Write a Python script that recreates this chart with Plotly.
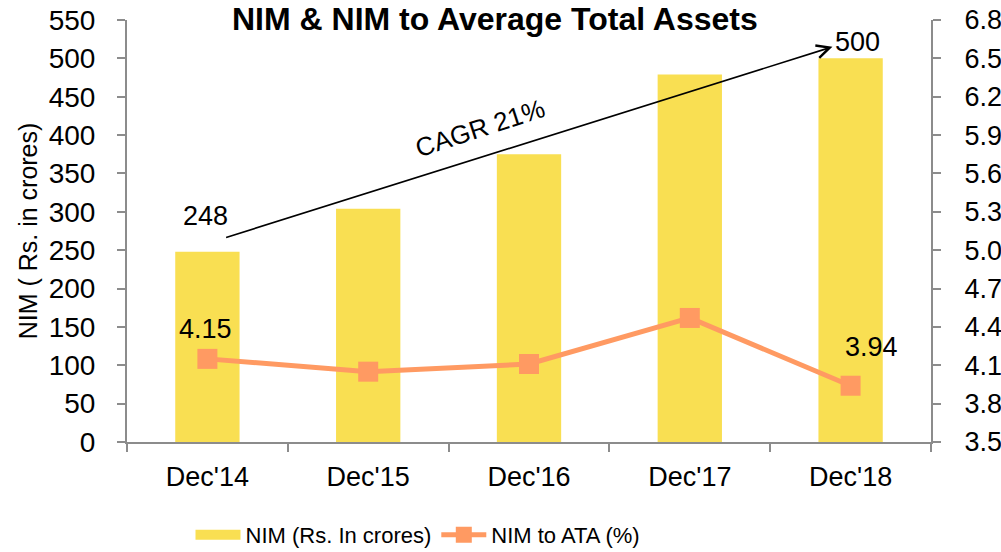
import plotly.graph_objects as go

categories = ["Dec'14", "Dec'15", "Dec'16", "Dec'17", "Dec'18"]
nim_values = [248, 304, 375, 479, 500]
ata_values = [4.15, 4.05, 4.11, 4.47, 3.94]
left_ticks = list(range(0, 551, 50))
right_ticks = [3.5, 3.8, 4.1, 4.4, 4.7, 5.0, 5.3, 5.6, 5.9, 6.2, 6.5, 6.8]
cagr_text = "CAGR 21%"
title_text = "NIM & NIM to Average Total Assets"

BAR = "#F9DF52"
LINE = "#FF9A62"
AXIS = "#8C8C8C"
FONT = "Liberation Sans, Arial, sans-serif"

W, H = 1001, 552
ML, MR, MT, MB = 127, 70, 20, 110
plot_w = W - ML - MR
plot_h = H - MT - MB

fig = go.Figure()
fig.add_trace(go.Bar(
    x=categories, y=nim_values, name="NIM (Rs. In crores)",
    marker=dict(color=BAR, line=dict(width=0)), width=0.4, yaxis="y", showlegend=False,
))
# legend swatch for the bars (wide rectangle as in the reference)
fig.add_trace(go.Scatter(
    x=[None], y=[None], mode="lines", name="NIM (Rs. In crores)",
    line=dict(color=BAR, width=15), yaxis="y", hoverinfo="skip",
))
fig.add_trace(go.Scatter(
    x=categories, y=ata_values, name="NIM to ATA (%)", mode="lines+markers",
    line=dict(color=LINE, width=5), marker=dict(symbol="square", size=20, color=LINE),
    yaxis="y2",
))

lab_font = dict(size=27, color="black", family=FONT)
ann = []
ann.append(dict(x=categories[0], y=nim_values[0], xref="x", yref="y", text=str(nim_values[0]),
                showarrow=False, yshift=36, xshift=-2, font=lab_font))
ann.append(dict(x=categories[-1], y=nim_values[-1], xref="x", yref="y", text=str(nim_values[-1]),
                showarrow=False, yshift=16, xshift=7, font=lab_font))
ann.append(dict(x=categories[0], y=ata_values[0], xref="x", yref="y2", text=f"{ata_values[0]:.2f}",
                showarrow=False, yshift=30, xshift=-2, font=lab_font))
ann.append(dict(x=categories[-1], y=ata_values[-1], xref="x", yref="y2", text=f"{ata_values[-1]:.2f}",
                showarrow=False, yshift=39, xshift=21, font=lab_font))
# CAGR arrow
ann.append(dict(x=3.887, y=515, xref="x", yref="y", ax=0.107, ay=266, axref="x", ayref="y",
                text="", showarrow=True, arrowhead=5, arrowsize=1.6, arrowwidth=1.6, arrowcolor="black"))
ann.append(dict(x=1.698, y=409, xref="x", yref="y", text=cagr_text, showarrow=False, textangle=-18,
                font=dict(size=26, color="black", family=FONT)))
# Title at the very top
ann.append(dict(x=(495 - ML) / plot_w, y=1 + (MT + 1) / plot_h, xref="paper", yref="paper",
                text="<b>" + title_text + "</b>", showarrow=False, xanchor="center", yanchor="top",
                font=dict(size=32, color="black", family=FONT)))

fig.update_layout(
    annotations=ann,
    width=W, height=H,
    margin=dict(l=ML, r=MR, t=MT, b=MB, autoexpand=False),
    paper_bgcolor="white", plot_bgcolor="white",
    font=dict(family=FONT, color="black"),
    showlegend=True,
    legend=dict(orientation="h", xref="container", yref="container", x=418 / W, y=1 - 535 / H,
                xanchor="center", yanchor="middle",
                font=dict(size=22, color="black", family=FONT), itemwidth=45,
                bgcolor="rgba(0,0,0,0)", traceorder="normal"),
    xaxis=dict(
        type="category", showgrid=False, showline=True, linecolor=AXIS, linewidth=2,
        ticks="outside", tickson="boundaries", ticklen=8, tickwidth=2, tickcolor=AXIS,
        tickfont=dict(size=27, color="black", family=FONT), ticklabelstandoff=10,
        range=[-0.5, 4.5], automargin=False,
    ),
    yaxis=dict(
        range=[0, 550], tickvals=left_ticks, showgrid=False, zeroline=False,
        showline=True, linecolor=AXIS, linewidth=2, ticks="outside", ticklen=8, tickwidth=2,
        tickcolor=AXIS, tickfont=dict(size=28, color="black", family=FONT), ticklabelstandoff=16,
        title=dict(text="NIM ( Rs. in crores)", font=dict(size=25, color="black", family=FONT), standoff=4),
        automargin=False,
    ),
    yaxis2=dict(
        range=[3.5, 6.8], tickvals=right_ticks, ticktext=[f"{v:.1f}" for v in right_ticks],
        overlaying="y", side="right", showgrid=False, zeroline=False,
        showline=True, linecolor=AXIS, linewidth=2, ticks="outside", ticklen=8, tickwidth=2,
        tickcolor=AXIS, tickfont=dict(size=27, color="black", family=FONT), ticklabelstandoff=18,
        automargin=False,
    ),
)

fig.write_html("out.html", config={"displayModeBar": False},
               post_script="document.body.style.margin='0';document.body.style.overflow='hidden';")
